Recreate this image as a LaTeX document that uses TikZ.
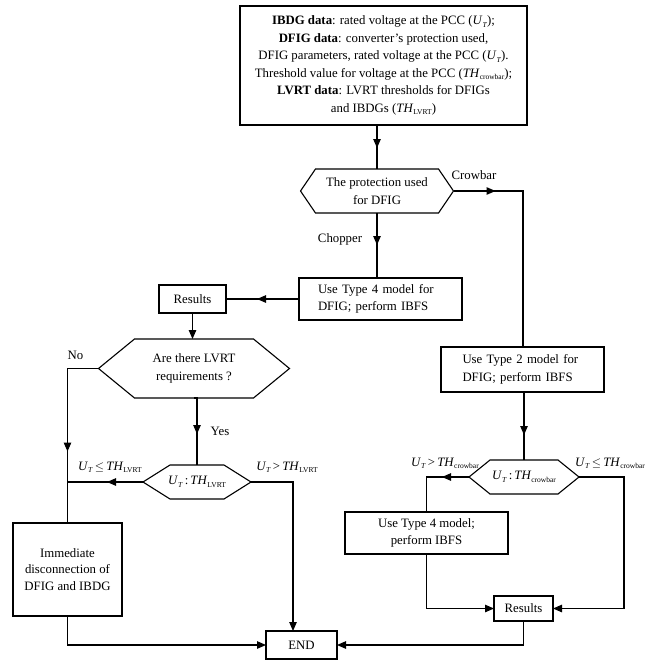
\documentclass[tikz,border=0pt]{standalone}
\usepackage{fontspec}
\setmainfont{Liberation Serif}
\usetikzlibrary{arrows.meta,decorations.markings}
\newcommand\mysub[1]{\raisebox{-0.45ex}{\fontsize{7.5}{8}\selectfont #1}}
\newcommand\UT{\textit{U}\mysub{\textit{T}}}
\newcommand\THx[1]{\textit{TH}\mysub{#1}}
\newcommand\hexdraw[2]{\draw[line] ([xshift=#2]#1.north west) -- ([xshift=-#2]#1.north east) -- (#1.east) -- ([xshift=-#2]#1.south east) -- ([xshift=#2]#1.south west) -- (#1.west) -- cycle;}
\begin{document}
\begin{tikzpicture}[x=1pt,y=-1pt,
  font=\fontsize{12.8}{17.5}\selectfont,
  >={Triangle[length=9pt,width=7.5pt]},
  line/.style={line width=1.1pt},
  box/.style={draw,line width=1.1pt,inner sep=0pt,outer sep=0pt,align=center},
  hexn/.style={inner sep=0pt,outer sep=0pt,align=center},
  lab/.style={anchor=base,inner sep=0pt},
  midarr/.style={postaction={decorate},decoration={markings,mark=at position #1 with {\arrow{>}}}}]
\useasboundingbox (0,0) rectangle (654,669);

\node[box,minimum width=287pt,minimum height=119pt] (data) at (383.5,65.5)
 {\textbf{IBDG data}: rated voltage at the PCC (\UT);\\
  \textbf{DFIG data}: converter’s protection used,\\
  DFIG parameters, rated voltage at the PCC (\UT).\\
  Threshold value for voltage at the PCC (\THx{crowbar});\\
  \textbf{LVRT data}: LVRT thresholds for DFIGs\\
  and IBDGs (\THx{LVRT})};

\node[hexn,minimum width=153pt,minimum height=44pt] (prot) at (377,191) {The protection used\\for DFIG};
\hexdraw{prot}{15pt}

\node[box,minimum width=163pt,minimum height=42pt,text width=125pt,align=left] (t4a) at (380.5,299) {Use Type 4 model for\\DFIG; perform IBFS};
\node[box,minimum width=67pt,minimum height=28pt] (r1) at (192.5,299) {Results};

\node[hexn,minimum width=191pt,minimum height=59pt] (lq) at (194,368.5) {Are there LVRT\\requirements ?};
\hexdraw{lq}{36pt}

\node[hexn,minimum width=108pt,minimum height=34pt] (lc) at (197,482) {\UT\,:\,\THx{LVRT}};
\hexdraw{lc}{27pt}

\node[box,minimum width=163pt,minimum height=45pt,text width=120pt,align=left] (t2) at (522.5,369.5) {Use Type 2 model for\\DFIG; perform IBFS};

\node[hexn,minimum width=110pt,minimum height=34pt] (cc) at (524,477) {\UT\,:\,\THx{crowbar}};
\hexdraw{cc}{21pt}

\node[box,minimum width=109pt,minimum height=93pt,font=\fontsize{12.8}{16.5}\selectfont] (imm) at (67.5,569.5) {Immediate\\disconnection of\\DFIG and IBDG};
\node[box,minimum width=71pt,minimum height=28pt] (end) at (301.5,645) {END};
\node[box,minimum width=163pt,minimum height=42pt] (t4b) at (426.5,533) {Use Type 4 model;\\perform IBFS};
\node[box,minimum width=59pt,minimum height=25pt] (r2) at (523.5,608.5) {Results};

% labels
\node[lab] (lcrow) at (474,179) {Crowbar};
\node[lab] (lchop) at (340,242) {Chopper};
\node[lab] (lno) at (75.5,359) {No};
\node[lab] (lyes) at (220,435) {Yes};
\node[lab] (lle) at (110,470) {\UT\,$\leq$\,\THx{LVRT}};
\node[lab] (lgt) at (287,470) {\UT\,>\,\THx{LVRT}};
\node[lab] (cgt) at (445,466) {\UT\,>\,\THx{crowbar}};
\node[lab] (cle) at (610,466) {\UT\,$\leq$\,\THx{crowbar}};

% connectors
\draw[line,midarr=23pt] (prot.north |- data.south) -- (prot.north);
\coordinate (c1) at (523,191);
\draw[line,midarr=42pt] (prot.east) -- (c1) -- (c1 |- t2.north);
\draw[line,midarr=32pt] (prot.south) -- (prot.south |- t4a.north);
\draw[line,midarr=42pt] (t4a.west) -- (r1.east);
\draw[line,->] (r1.south) -- (r1.south |- lq.north);
\coordinate (c2) at (67.5,368.5);
\draw[line,midarr=114pt] (lq.west) -- (c2) -- (c2 |- imm.north);
\draw[line,midarr=39pt] (lq.south) -- (lq.south -| lc.north) -- (lc.north);
\coordinate (c3) at (67.5,482);
\draw[line,midarr=36pt] (lc.west) -- (c3);
\coordinate (c4) at (293,482);
\draw[line,->] (lc.east) -- (c4) -- (c4 |- end.north);
\draw[line,->] (imm.south) |- (end.west);
\draw[line,midarr=43pt] (t2.south -| cc.north) -- (cc.north);
\coordinate (c5) at (426.5,477);
\draw[line,midarr=27pt] (cc.west) -- (c5) -- (c5 |- t4b.north);
\coordinate (c6) at (624,477);
\draw[line,->] (cc.east) -- (c6) |- (r2.east);
\draw[line,->] (t4b.south) |- (r2.west);
\draw[line,->] (r2.south) |- (end.east);
\end{tikzpicture}
\end{document}
